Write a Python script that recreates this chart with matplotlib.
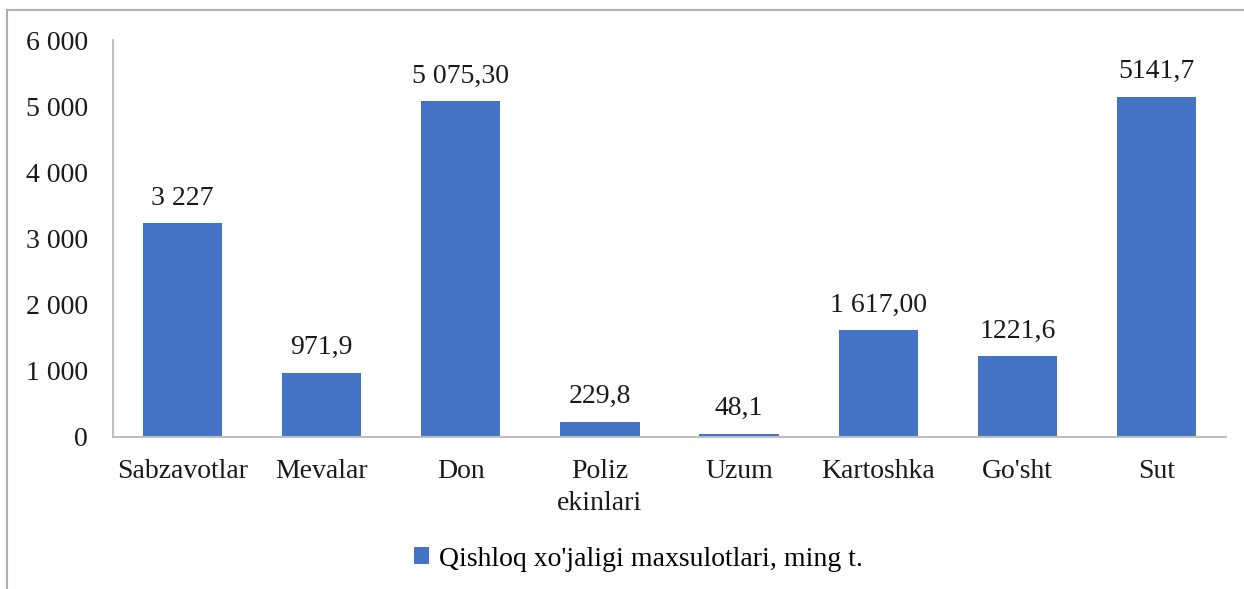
import matplotlib.pyplot as plt
from matplotlib.patches import Rectangle, Patch

categories = ["Sabzavotlar", "Mevalar", "Don", "Poliz\nekinlari", "Uzum",
              "Kartoshka", "Go'sht", "Sut"]
values = [3227, 971.9, 5075.3, 229.8, 48.1, 1617.0, 1221.6, 5141.7]
value_labels = ["3 227", "971,9", "5 075,30", "229,8", "48,1", "1 617,00",
                "1221,6", "5141,7"]
yticks = [0, 1000, 2000, 3000, 4000, 5000, 6000]
ytick_labels = ["0", "1 000", "2 000", "3 000", "4 000", "5 000", "6 000"]
series_name = "Qishloq xo'jaligi maxsulotlari, ming t."

BLUE = "#4472C4"
AXIS = "#BFBFBF"
FS = 20
plt.rcParams["font.family"] = ["Liberation Serif", "DejaVu Serif"]

fig = plt.figure(figsize=(12.44, 5.89), dpi=100)
ax = fig.add_axes([113 / 1244, 1 - 437 / 589, (1226 - 113) / 1244, 397 / 589])

x = range(len(categories))
bars = ax.bar(x, values, width=0.57, color=BLUE, zorder=2)
for bar, lab in zip(bars, value_labels):
    ax.text(bar.get_x() + bar.get_width() / 2, bar.get_height() + 190, lab,
            ha="center", va="bottom", fontsize=FS, color="#1a1a1a")

ax.set_xlim(-0.5, len(categories) - 0.5)
ax.set_ylim(0, 6000)
ax.set_xticks(list(x))
ax.set_xticklabels(categories, fontsize=FS, color="#1a1a1a", linespacing=1.35)
ax.set_yticks(yticks)
ax.set_yticklabels(ytick_labels, fontsize=FS, color="#1a1a1a")
ax.tick_params(axis="both", length=0)
ax.tick_params(axis="y", pad=18)
ax.tick_params(axis="x", pad=16)

for side in ["top", "right"]:
    ax.spines[side].set_visible(False)
for side in ["left", "bottom"]:
    ax.spines[side].set_color(AXIS)
    ax.spines[side].set_linewidth(1.5)

# outer chart frame (cut off at right and bottom)
fig.patches.append(Rectangle((7 / 1244, -0.1), 1.2, 1.1 - 10 / 589,
                             transform=fig.transFigure, fill=False,
                             edgecolor="#AFAFAF", lw=1.5))

fig.legend(handles=[Patch(facecolor=BLUE, label=series_name)],
           loc="center", bbox_to_anchor=(638 / 1244, 1 - 559 / 589),
           frameon=False, fontsize=FS, handlelength=0.55, handleheight=0.55,
           handletextpad=0.35)

fig.savefig("out.png", dpi=100)
